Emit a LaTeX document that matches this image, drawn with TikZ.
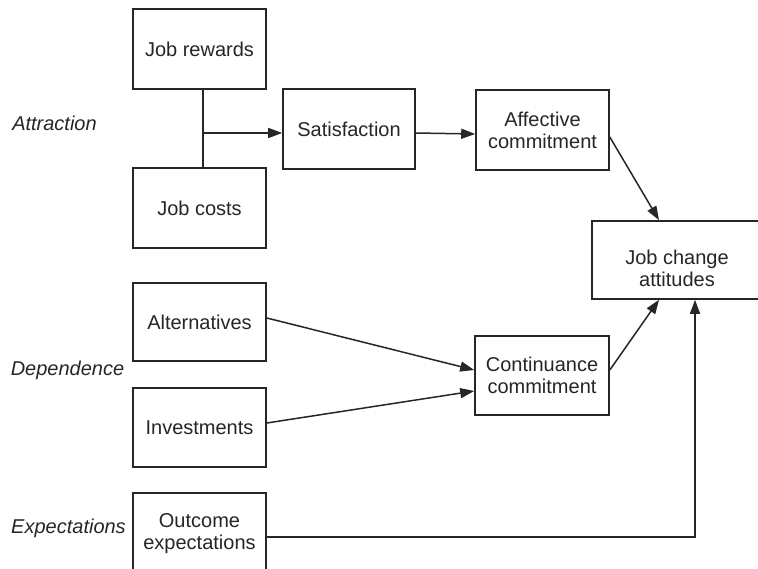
\documentclass[tikz,border=0pt]{standalone}
\usepackage{fontspec}
\setmainfont{Liberation Sans}
\usetikzlibrary{arrows.meta}
\begin{document}
\begin{tikzpicture}[x=1pt,y=-1pt,
  box/.style={draw=black!85,line width=1.6pt,inner sep=0pt,align=center,
    font=\fontsize{20}{22}\selectfont,text=black!85},
  txt/.style={align=center,inner sep=0pt,font=\fontsize{20}{22}\selectfont,text=black!85},
  grp/.style={font=\fontsize{20}{22}\selectfont\itshape,text=black!85},
  conn/.style={line width=1.5pt,draw=black!85},
  arr/.style={conn,-{Triangle[length=14pt,width=10pt]}}]
\useasboundingbox (0,0) rectangle (758,568);
\clip (0,0) rectangle (758,568);
\fill[white] (0,0) rectangle (758,568);
\node[box,minimum width=133pt,minimum height=80pt] (rew) at (199.5,49) {Job rewards};
\node[box,minimum width=133pt,minimum height=80pt] (cost) at (199.5,208) {Job costs};
\node[box,minimum width=132pt,minimum height=80pt] (sat) at (349,129) {Satisfaction};
\node[box,minimum width=133pt,minimum height=80pt] (aff) at (542.5,130) {Affective\\commitment};
\node[box,minimum width=168pt,minimum height=78pt] (jca) at (676,260) {};
\node[txt] (jcat) at (677,268) {Job change\\attitudes};
\node[box,minimum width=133pt,minimum height=78pt] (alt) at (199.5,322) {Alternatives};
\node[box,minimum width=133pt,minimum height=79pt] (inv) at (199.5,427.5) {Investments};
\node[box,minimum width=134pt,minimum height=79pt] (cont) at (542,375.5) {Continuance\\commitment};
\node[box,minimum width=133pt,minimum height=82pt] (out) at (199.5,534) {Outcome\\expectations};
\node[grp] (attr) at (54.5,123) {Attraction};
\node[grp] (dep) at (67.5,370) {Dependence};
\node[grp] (exp) at (68.5,528) {Expectations};
\coordinate (junc) at (203,133);
\draw[conn,line width=1.8pt] (rew.south -| junc) -- (cost.north -| junc);
\draw[arr] (junc) -- (sat.west |- junc);
\draw[arr] ([yshift=-4pt]sat.east) -- ([yshift=-4pt]aff.west);
\draw[arr] ([yshift=-7pt]aff.east) -- ([xshift=-17pt]jca.north);
\draw[arr] ([yshift=4pt]alt.east) -- ([yshift=5.5pt]cont.west);
\draw[arr] ([yshift=4.5pt]inv.east) -- ([yshift=-15.5pt]cont.west);
\draw[arr] ([yshift=5.5pt]cont.east) -- ([xshift=-17pt]jca.south);
\draw[arr] ([yshift=-3pt]out.east) -| ([xshift=19pt]jca.south);
\end{tikzpicture}
\end{document}
